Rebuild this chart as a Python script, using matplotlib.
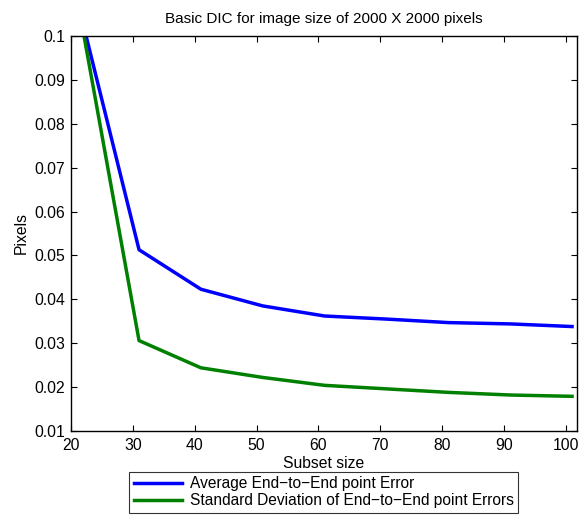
import matplotlib
matplotlib.use("Agg")
import matplotlib.pyplot as plt

plt.rcParams['font.family'] = ['Liberation Sans', 'DejaVu Sans']

subset_size = [21, 31, 41, 51, 61, 71, 81, 91, 101]
avg_error = [0.1082, 0.0513, 0.0423, 0.0385, 0.0362, 0.0355, 0.0347, 0.0344, 0.0338]
std_error = [0.1086, 0.0306, 0.0244, 0.0222, 0.0204, 0.0196, 0.0188, 0.0182, 0.0179]
xticks = [20, 30, 40, 50, 60, 70, 80, 90, 100]
yticks = [0.01, 0.02, 0.03, 0.04, 0.05, 0.06, 0.07, 0.08, 0.09, 0.1]
ytick_labels = ['0.01', '0.02', '0.03', '0.04', '0.05', '0.06', '0.07', '0.08', '0.09', '0.1']

fig = plt.figure(figsize=(5.81, 5.17), dpi=100)
ax = fig.add_axes([71/581, 1-431/517, (577-71)/581, (431-36)/517])

ax.plot(subset_size, avg_error, color='#0000ff', lw=2.5,
        label='Average End\u2212to\u2212End point Error')
ax.plot(subset_size, std_error, color='#008000', lw=2.5,
        label='Standard Deviation of End\u2212to\u2212End point Errors')

ax.set_xlim(20, 101.8)
ax.set_ylim(0.01, 0.1)
ax.set_xticks(xticks)
ax.set_xticklabels([str(t) for t in xticks])
ax.set_yticks(yticks)
ax.set_yticklabels(ytick_labels)
ax.tick_params(direction='in', top=True, right=True, labelsize=11.3, length=4, width=0.8)
ax.tick_params(axis='x', pad=5)
ax.tick_params(axis='y', pad=4)
for s in ax.spines.values():
    s.set_linewidth(1.0)

ax.set_title('Basic DIC for image size of 2000 X 2000 pixels', fontsize=11, pad=9)
ax.set_xlabel('Subset size', fontsize=11.3, labelpad=2)
ax.set_ylabel('Pixels', fontsize=11.3, labelpad=4)

leg = fig.legend(loc='upper center', bbox_to_anchor=(323.7/581, 1-471.7/517),
                 fontsize=11.2, frameon=True, fancybox=False, edgecolor='black',
                 handlelength=3.1, handletextpad=0.5, borderpad=0.3, labelspacing=0.12,
                 borderaxespad=0)
leg.get_frame().set_linewidth(0.8)

fig.savefig('out.png', dpi=100)
